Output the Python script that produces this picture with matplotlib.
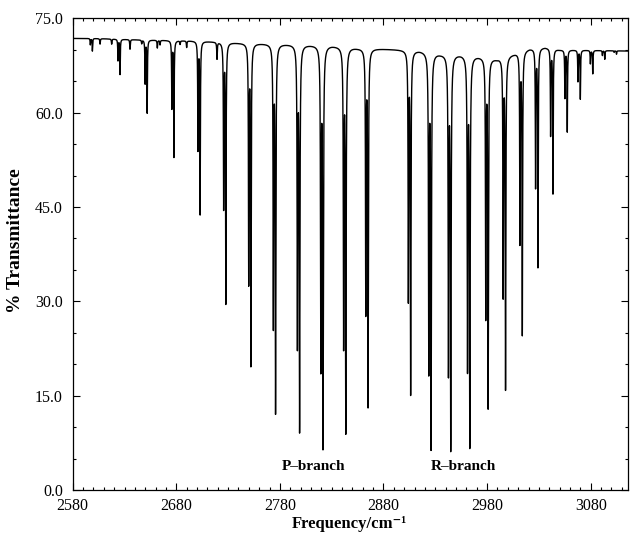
import numpy as np
import matplotlib
matplotlib.use("Agg")
import matplotlib.pyplot as plt
from matplotlib.ticker import MultipleLocator, FormatStrFormatter

# ---- data ----
# H35Cl lines: centre (cm^-1) and minimum % transmittance
h35_pos = [2599.0, 2625.7, 2651.9, 2677.7, 2703.0, 2727.8, 2752.0, 2775.8,
           2799.0, 2821.6, 2843.6, 2865.1,
           2906.2, 2925.9, 2944.9, 2963.3, 2981.0, 2997.8, 3014.0, 3029.1,
           3043.6, 3057.4, 3070.0, 3082.0, 3093.6, 3104.9]
h35_min = [69.8, 66.1, 60.0, 53.0, 43.9, 29.7, 19.8, 12.2,
           9.2, 6.5, 9.0, 13.2,
           15.2, 6.4, 6.2, 6.7, 13.0, 16.0, 24.7, 35.5,
           47.2, 57.0, 62.2, 66.2, 68.5, 69.3]
# H37Cl lines (weaker isotope partner, slightly lower frequency)
h37_pos = [2597.0, 2623.7, 2649.9, 2675.7, 2700.9, 2725.7, 2749.9, 2773.7,
           2796.9, 2819.5, 2841.5, 2862.9,
           2904.0, 2923.7, 2942.7, 2961.1, 2978.7, 2995.5, 3011.7, 3026.8,
           3041.3, 3055.1, 3067.7, 3079.7, 3091.3, 3102.6]
h37_min = [70.8, 68.3, 64.7, 60.8, 54.2, 45.0, 33.0, 26.0,
           22.8, 19.1, 22.8, 28.2,
           30.3, 18.7, 18.4, 19.1, 27.5, 30.9, 39.4, 48.3,
           56.5, 62.4, 65.0, 67.8, 69.1, 69.6]
# weak background lines
weak_pos = [2606.4, 2617.6, 2635.3, 2646.6, 2661.7, 2664.3, 2683.6, 2690.0, 2719.3]
weak_min = [70.9, 70.9, 70.1, 71.0, 70.3, 70.8, 70.9, 70.4, 68.6]
# baseline (100% line of the sample cell) read between the lines
base_x = [2580, 2600, 2640, 2700, 2740, 2790, 2830, 2855, 2885, 2915, 2935,
          2955, 2972, 2989, 3006, 3021, 3036, 3050, 3116]
base_y = [71.8, 71.8, 71.6, 71.4, 71.1, 70.9, 70.7, 70.3, 70.1, 69.9, 69.4,
          69.3, 69.0, 68.6, 69.4, 70.2, 70.4, 70.0, 69.8]

x_ticks = [2580, 2680, 2780, 2880, 2980, 3080]
y_ticks = [0.0, 15.0, 30.0, 45.0, 60.0, 75.0]

# ---- build spectrum from the line list ----
nu = np.arange(2580.0, 3116.0, 0.01)
base = np.interp(nu, base_x, base_y)
gam = 0.25
absorb = np.zeros_like(nu)
for pos_list, min_list, g in ((h35_pos, h35_min, gam), (h37_pos, h37_min, gam),
                              (weak_pos, weak_min, 0.3)):
    for p, m in zip(pos_list, min_list):
        b0 = np.interp(p, base_x, base_y)
        a = np.log(b0 / m)
        absorb += a * g**2 / ((nu - p) ** 2 + g**2)
trans = base * np.exp(-absorb)

# ---- plot ----
serif = ["Liberation Serif", "DejaVu Serif"]
plt.rcParams["font.family"] = serif
fig = plt.figure(figsize=(6.3, 5.35), dpi=100)
ax = fig.add_axes([0.1154, 0.0841, 0.8814, 0.8817])
ax.plot(nu, trans, color="black", lw=1.0)
ax.set_xlim(2580, 3116)
ax.set_ylim(0, 75)
ax.set_xticks(x_ticks)
ax.set_yticks(y_ticks)
ax.xaxis.set_minor_locator(MultipleLocator(10))
ax.yaxis.set_minor_locator(MultipleLocator(5))
ax.yaxis.set_major_formatter(FormatStrFormatter("%.1f"))
ax.tick_params(which="both", direction="in", top=True, right=True,
               labelsize=11.5, width=0.8)
ax.tick_params(axis="x", which="major", length=5, pad=6)
ax.tick_params(axis="y", which="major", length=5, pad=7)
ax.tick_params(which="minor", length=2.5)
for s in ax.spines.values():
    s.set_linewidth(0.9)
ax.set_xlabel("Frequency/cm\u207b\u00b9", fontsize=12, fontweight="bold")
ax.xaxis.set_label_coords(0.499, -0.0557)
ax.set_ylabel("% Transmittance", fontsize=14, fontweight="bold")
ax.yaxis.set_label_coords(-0.088, 0.528)
ax.text(2812, 3.7, "P\u2013branch", ha="center", va="center",
        fontsize=11, fontweight="bold")
ax.text(2957, 3.7, "R\u2013branch", ha="center", va="center",
        fontsize=11, fontweight="bold")
fig.savefig("out.png", dpi=100)
